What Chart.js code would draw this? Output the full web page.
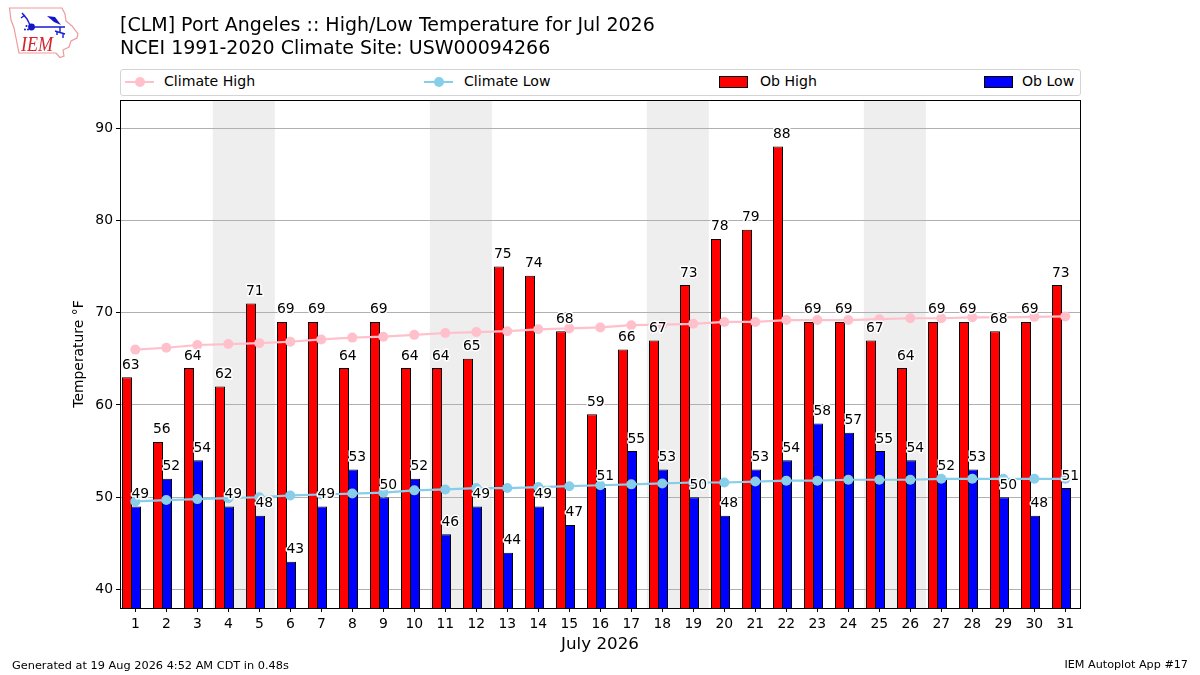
<!DOCTYPE html>
<html lang="en">
<head>
    <meta charset="UTF-8">
    <title>Port Angeles High/Low Temperature</title>
    <style>
        body { margin: 0; background: #fff; font-family: "DejaVu Sans", sans-serif; color: #000; }
        #wrap { position: relative; width: 1200px; height: 675px; overflow: hidden; }
        #myChart { position: absolute; left: 0; top: 0; }
        .txt { position: absolute; white-space: nowrap; }
        #legendBox { position: absolute; left: 120px; top: 69px; width: 959px; height: 25px; border: 1px solid #d4d4d4; border-radius: 3px; background: #fff; }
        .key { position: absolute; }
    </style>
</head>
<body>
<div id="wrap">
    <canvas id="myChart" width="1200" height="675"></canvas>

    <svg style="position:absolute;left:0;top:0" width="90" height="62" viewBox="0 0 90 62">
        <path d="M9.5 8 L62 8 L65 14 L66 21 L72 26 L78 34 L77 38 L71 41 L69 47 L63 50 L64 56 L60 57.5 L56 53 L19 53 L17 43 L14 28 L11 20 Z" fill="none" stroke="#ee9a9a" stroke-width="1.2"/>
        <path d="M31 27 L65 27 M22 13 L27 19 L31 27 M21 18 L25 15 M60 27 L60 32 M55 31 L65 34 M57 31 L57 35 M63 33 L63 38" fill="none" stroke="#1a1ad8" stroke-width="1.4"/>
        <circle cx="31.500" cy="27" r="3.4" fill="#1414c8"/>
        <path d="M47 16 L55 17 L61 25 L54 22 Z" fill="#1414c8"/>
        <circle cx="25" cy="29.500" r="1" fill="#1414c8"/><circle cx="28" cy="29.500" r="1" fill="#1414c8"/><circle cx="26.500" cy="26" r="1" fill="#1414c8"/>
        <text x="21" y="51" font-family="Liberation Serif" font-style="italic" font-size="21" textLength="32" lengthAdjust="spacingAndGlyphs" fill="#d8222a">IEM</text>
    </svg>

    <div class="txt" style="left:120px;top:13px;font-size:19px;line-height:23px">[CLM] Port Angeles :: High/Low Temperature for Jul 2026<br>NCEI 1991-2020 Climate Site: USW00094266</div>

    <div id="legendBox"></div>

    <div class="txt" style="left:12px;top:658px;font-size:11.32px">Generated at 19 Aug 2026 4:52 AM CDT in 0.48s</div>
    <div class="txt" style="right:12px;top:658px;font-size:11.2px">IEM Autoplot App #17</div>
</div>

<script src="https://cdn.jsdelivr.net/npm/chart.js"></script>

<script>
    const days = [1,2,3,4,5,6,7,8,9,10,11,12,13,14,15,16,17,18,19,20,21,22,23,24,25,26,27,28,29,30,31]
    const obHigh = [63,56,64,62,71,69,69,64,69,64,64,65,75,74,68,59,66,67,73,78,79,88,69,69,67,64,69,69,68,69,73]
    const obLow = [49,52,54,49,48,43,49,53,50,52,46,49,44,49,47,51,55,53,50,48,53,54,58,57,55,54,52,53,50,48,51]
    const climateHigh = [66.0,66.2,66.5,66.6,66.7,66.85,67.1,67.3,67.4,67.6,67.8,67.9,68.0,68.2,68.3,68.4,68.65,68.7,68.8,69.0,69.0,69.2,69.2,69.2,69.3,69.4,69.4,69.5,69.5,69.55,69.6]
    const climateLow = [49.55,49.7,49.8,49.9,50.0,50.2,50.3,50.4,50.5,50.75,50.85,51.0,51.0,51.1,51.2,51.3,51.4,51.5,51.6,51.6,51.7,51.8,51.8,51.9,51.9,51.9,52.0,52.0,52.0,52.0,52.0]
    const weekends = [[3.5,5.5],[10.5,12.5],[17.5,19.5],[24.5,26.5]]
    const yTicks = [40,50,60,70,80,90]

    // the bar pairs sit a little left of the day tick in the original
    const barShift = -0.12258
    const pts = (vals, shift = 0) => vals.map((v, i) => ({x: days[i] + shift, y: v}))

    // weekend bands sit under the grid lines
    const weekendBands = {
        id: 'weekendBands',
        beforeDraw(chart) {
            const {ctx, chartArea, scales} = chart
            ctx.save()
            ctx.fillStyle = '#eeeeee'
            weekends.forEach(([a, b]) => {
                const x0 = scales.x.getPixelForValue(a)
                const x1 = scales.x.getPixelForValue(b)
                ctx.fillRect(x0, chartArea.top, x1 - x0, chartArea.bottom - chartArea.top)
            })
            ctx.restore()
        }
    }

    // value labels with a white halo, and the frame on top of the bars
    const valueLabels = {
        id: 'valueLabels',
        afterDatasetsDraw(chart) {
            const {ctx, chartArea, scales} = chart
            ctx.save()
            ctx.strokeStyle = '#000'
            ctx.lineWidth = 1
            ctx.strokeRect(chartArea.left + 0.5, chartArea.top + 0.5, chartArea.right - chartArea.left, chartArea.bottom - chartArea.top)
            ctx.font = '13.9px "DejaVu Sans"'
            ctx.textAlign = 'center'
            ctx.textBaseline = 'alphabetic'
            ctx.lineJoin = 'round'
            const drawSet = (vals, dx) => {
                vals.forEach((v, i) => {
                    const x = scales.x.getPixelForValue(days[i]) + dx
                    const y = scales.y.getPixelForValue(v) - 8.5
                    ctx.strokeStyle = '#fff'
                    ctx.lineWidth = 3
                    ctx.strokeText(String(v), x, y)
                    ctx.fillStyle = '#000'
                    ctx.fillText(String(v), x, y)
                })
            }
            drawSet(obHigh, -4.5)
            drawSet(obLow, 5)
            ctx.restore()
        }
    }

    const chart = new Chart(document.getElementById('myChart'), {
        data: {
            datasets: [
                {type: 'line', label: 'Climate High', data: pts(climateHigh), borderColor: 'pink', backgroundColor: 'pink', borderWidth: 2.2, pointRadius: 5, pointBorderWidth: 0, tension: 0, order: 2},
                {type: 'line', label: 'Climate Low', data: pts(climateLow), borderColor: 'skyblue', backgroundColor: 'skyblue', borderWidth: 2.2, pointRadius: 5, pointBorderWidth: 0, tension: 0, order: 1},
                {type: 'bar', label: 'Ob High', data: pts(obHigh, barShift), backgroundColor: '#ff0000', borderColor: '#000', borderWidth: 1, borderSkipped: false, categoryPercentage: 18 / 31, barPercentage: 10 / 9, order: 3},
                {type: 'bar', label: 'Ob Low', data: pts(obLow, barShift), backgroundColor: '#0000ff', borderColor: '#000', borderWidth: 1, borderSkipped: false, categoryPercentage: 18 / 31, barPercentage: 10 / 9, order: 3}
            ]
        },
        options: {
            responsive: false,
            animation: false,
            devicePixelRatio: 1,
            layout: {padding: {top: 100, right: 120, bottom: 0, left: 0}},
            plugins: {legend: {display: false}, tooltip: {enabled: false}},
            scales: {
                x: {
                    type: 'linear',
                    offset: false,
                    min: 0.5065,
                    max: 0.5065 + 960 / 31,
                    afterFit: (s) => { s.height = 67 },
                    afterBuildTicks: (s) => { s.ticks = days.map((d) => ({value: d})) },
                    grid: {offset: false, drawOnChartArea: false, tickLength: 4, tickColor: '#000', tickWidth: 1},
                    border: {display: false},
                    ticks: {color: '#000', font: {family: 'DejaVu Sans', size: 13.9}, autoSkip: false, maxRotation: 0, padding: 4, callback: (v) => v},
                    title: {display: true, text: 'July 2026', color: '#000', font: {family: 'DejaVu Sans', size: 16.7}, padding: {top: 0, bottom: 20}}
                },
                y: {
                    min: 38,
                    max: 93.05,
                    afterFit: (s) => { s.width = 120 },
                    afterBuildTicks: (s) => { s.ticks = yTicks.map((v) => ({value: v})) },
                    grid: {color: '#b0b0b0', tickLength: 4, tickColor: '#000', tickWidth: 1},
                    border: {display: false},
                    ticks: {color: '#000', font: {family: 'DejaVu Sans', size: 13.9}, padding: 3},
                    title: {display: true, text: 'Temperature °F', color: '#000', font: {family: 'DejaVu Sans', size: 13.9}, padding: {top: 71, bottom: 0}}
                }
            }
        },
        plugins: [weekendBands, valueLabels]
    })

    // legend spread across the full width of the axes, from the datasets
    const legendSpots = [{x: 4, text: 43}, {x: 303, text: 343}, {x: 598, text: 639}, {x: 863, text: 901}]
    const legendBox = document.getElementById('legendBox')
    chart.data.datasets.forEach((ds, i) => {
        const spot = legendSpots[i]
        let key = ''
        if (ds.type === 'line') {
            key = `<div class="key" style="left:${spot.x}px;top:11px;width:29px;height:2px;background:${ds.borderColor}"></div>` +
                  `<div class="key" style="left:${spot.x + 10}px;top:7px;width:10px;height:10px;border-radius:50%;background:${ds.borderColor}"></div>`
        } else {
            key = `<div class="key" style="left:${spot.x}px;top:6px;width:27px;height:10px;border:1px solid #000;background:${ds.backgroundColor}"></div>`
        }
        legendBox.insertAdjacentHTML('beforeend', key + `<div class="txt" style="left:${spot.text}px;top:3px;font-size:14.1px">${ds.label}</div>`)
    })
</script>
</body>
</html>
